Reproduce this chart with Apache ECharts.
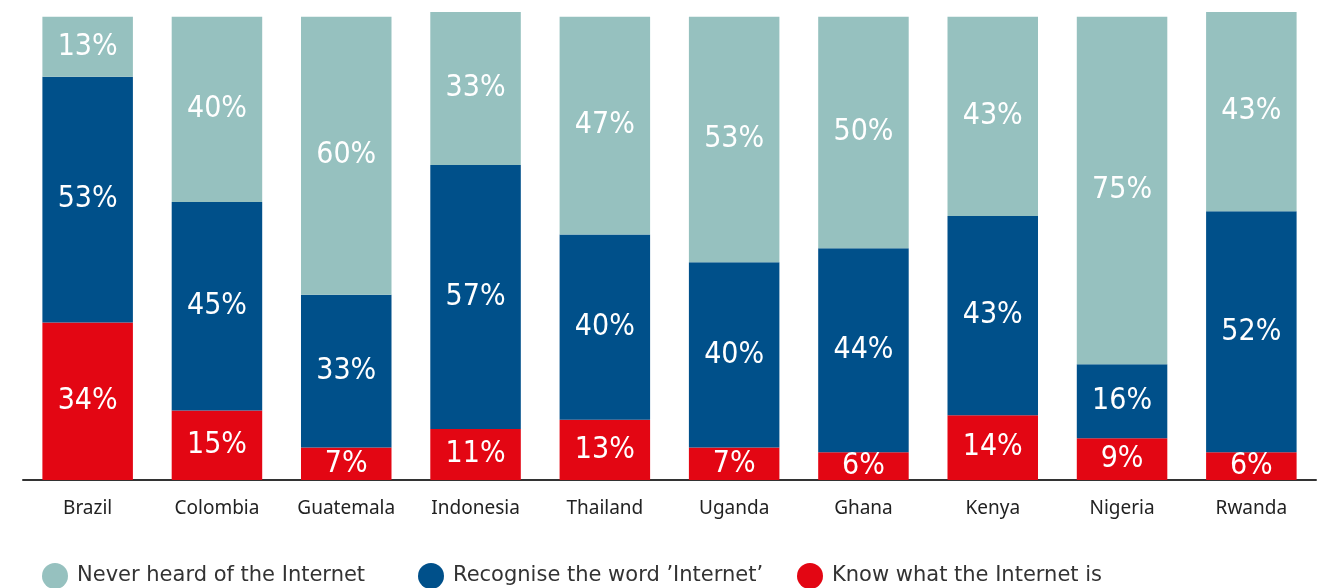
<!DOCTYPE html>
<html>
<head>
<meta charset="utf-8">
<script src="https://cdn.jsdelivr.net/npm/echarts@6/dist/echarts.min.js"></script>
<style>
  html, body { margin: 0; padding: 0; background: #fff; }
  #main { width: 1326px; height: 588px; }
</style>
</head>
<body>
<div id="main"></div>
<script>
// data
var countries = ['Brazil', 'Colombia', 'Guatemala', 'Indonesia', 'Thailand', 'Uganda', 'Ghana', 'Kenya', 'Nigeria', 'Rwanda'];
var knowWhat = [34, 15, 7, 11, 13, 7, 6, 14, 9, 6];
var recogniseWord = [53, 45, 33, 57, 40, 40, 44, 43, 16, 52];
var neverHeard = [13, 40, 60, 33, 47, 53, 50, 43, 75, 43];

var chart = echarts.init(document.getElementById('main'));

var labelStyle = {
  show: true,
  position: 'inside',
  color: '#fff',
  fontFamily: '"DejaVu Sans Condensed", "Liberation Sans Narrow", sans-serif',
  fontSize: 30,
  formatter: '{c}%'
};

function legendItem(name, left) {
  return {
    data: [name],
    left: left,
    top: 563,
    padding: 0,
    icon: 'circle',
    itemWidth: 26,
    itemHeight: 26,
    itemGap: 0,
    textStyle: { fontSize: 21, color: '#333', fontFamily: '"DejaVu Sans", sans-serif', padding: [0, 0, 0, 4] },
    selectedMode: false
  };
}

var option = {
  animation: false,
  legend: [
    legendItem('Never heard of the Internet', 42),
    legendItem("Recognise the word \u2019Internet\u2019", 418),
    legendItem('Know what the Internet is', 797)
  ],
  grid: { left: 23, right: 10, top: 12, bottom: 108 },
  xAxis: {
    type: 'category',
    data: countries,
    axisLine: { lineStyle: { color: '#333', width: 2 } },
    axisTick: { show: false },
    axisLabel: { color: '#222', fontSize: 19, margin: 19, fontFamily: '"Noto Sans", sans-serif' }
  },
  yAxis: {
    type: 'value',
    min: 0,
    max: 101,
    show: false
  },
  series: [
    {
      name: 'Know what the Internet is',
      type: 'bar',
      stack: 'all',
      barWidth: '70%',
      itemStyle: { color: '#e30613' },
      label: labelStyle,
      data: knowWhat
    },
    {
      name: "Recognise the word \u2019Internet\u2019",
      type: 'bar',
      stack: 'all',
      itemStyle: { color: '#00508a' },
      label: labelStyle,
      data: recogniseWord
    },
    {
      name: 'Never heard of the Internet',
      type: 'bar',
      stack: 'all',
      itemStyle: { color: '#96c1bf' },
      label: labelStyle,
      data: neverHeard
    }
  ]
};

chart.setOption(option);
</script>
</body>
</html>
